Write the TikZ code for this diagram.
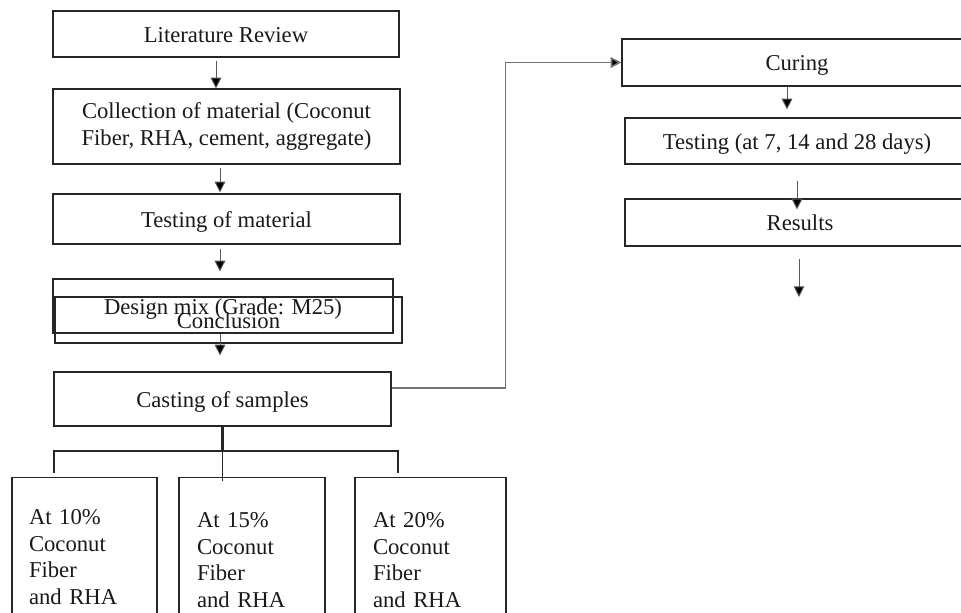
\documentclass[tikz,border=0pt]{standalone}
\usepackage{fontspec}
\setmainfont{Liberation Serif}
\usetikzlibrary{arrows.meta}
\begin{document}
\begin{tikzpicture}[x=0.75pt,y=-0.75pt,
  box/.style={draw=black!85, line width=0.9pt, inner sep=0pt, align=center,
    font=\fontsize{17}{20.3}\selectfont, text=black!90},
  one/.style={text height=12.4pt, text depth=0pt},
  lowbox/.style={draw=black!85, line width=0.9pt, anchor=north, align=left,
    font=\fontsize{17}{20}\selectfont, text=black!90, inner ysep=0pt},
  arr/.style={draw=black!65, line width=0.7pt, -{Triangle[length=8pt,width=8pt,fill=black]}},
  link/.style={draw=black!55, line width=1.2pt, -{Triangle[length=8pt,width=8pt,fill=black]}},
  branch/.style={draw=black!85, line width=0.9pt},
  ]
\useasboundingbox (0,0) rectangle (961,613);

% left column
\node[box, one, minimum width=346*0.75pt, minimum height=46*0.75pt] (lit) at (226,34) {Literature Review};
\node[box, minimum width=347*0.75pt, minimum height=75*0.75pt] (coll) at (226.5,126.5)
  {Collection of material (Coconut\\Fiber, RHA, cement, aggregate)};
\node[box, one, minimum width=347*0.75pt, minimum height=50*0.75pt] (tm) at (226.5,219) {Testing of material};
\node[box, one, minimum width=340*0.75pt, minimum height=54*0.75pt] (dm) at (223,306) {Design mix (Grade: M25)};
\node[box, one, minimum width=347*0.75pt, minimum height=46*0.75pt] (con) at (228.5,320) {Conclusion};
\node[box, one, minimum width=337*0.75pt, minimum height=54*0.75pt] (cast) at (222.5,399) {Casting of samples};

% right column
\node[box, one, minimum width=350*0.75pt, minimum height=47*0.75pt] (cur) at (797,62.5) {Curing};
\node[box, one, minimum width=344*0.75pt, minimum height=46*0.75pt] (td) at (797,141) {Testing (at 7, 14 and 28 days)};
\node[box, one, minimum width=350*0.75pt, minimum height=47*0.75pt] (res) at (800,222.5) {Results};
\coordinate (end) at (799,297);

% bottom boxes
\node[lowbox, minimum width=145*0.75pt, minimum height=159*0.75pt, text width=111*0.75pt, inner xsep=17*0.75pt]
  (b1) at (84.5,477) {At 10\%\\Coconut\\Fiber\\and RHA};
\node[lowbox, minimum width=146*0.75pt, minimum height=165*0.75pt, text width=110*0.75pt, inner xsep=18*0.75pt]
  (b2) at (252,477) {At 15\%\\Coconut\\Fiber\\and RHA};
\node[lowbox, minimum width=151*0.75pt, minimum height=165*0.75pt, text width=115*0.75pt, inner xsep=18*0.75pt]
  (b3) at (430.5,477) {At 20\%\\Coconut\\Fiber\\and RHA};

% arrows left column
\draw[arr, shorten <=2.25pt] ([xshift=-7.5pt]lit.south) -- ([xshift=-7.5pt]lit.south |- coll.north);
\draw[arr, shorten <=2.25pt, shorten >=0.75pt] ([xshift=-4.9pt]coll.south) -- ([xshift=-4.9pt]coll.south |- tm.north);
\draw[arr, shorten <=3pt, shorten >=5.25pt] ([xshift=-4.9pt]tm.south) -- ([xshift=-4.9pt]tm.south |- dm.north);
\draw[arr, shorten >=12pt] ([xshift=-2.25pt]dm.south) -- ([xshift=-2.25pt]dm.south |- cast.north);

% link casting -> curing
\draw[link] ([yshift=8.25pt]cast.east) -- ++(114,0) |- (cur.west);

% arrows right column
\draw[arr, shorten >=6pt] ([xshift=-7.5pt]cur.south) -- ([xshift=-7.5pt]cur.south |- td.north);
\draw[arr, shorten <=12pt, shorten >=-8.25pt] (td.south) -- (td.south |- res.north);
\draw[arr, shorten <=9pt] (res.south -| end) -- (end);

% branches to bottom boxes
\coordinate (hl) at (54,451);
\coordinate (hr) at (398,451);
\draw[line width=1.6pt, black!85] (cast.south) -- (cast.south |- hl);
\draw[branch] (cast.south |- hl) -- ([yshift=-3pt]cast.south |- b2.north);
\draw[branch] ([yshift=3pt]b1.north -| hl) -- (hl) -- (hr) -- ([yshift=3pt]b3.north -| hr);
\end{tikzpicture}
\end{document}
